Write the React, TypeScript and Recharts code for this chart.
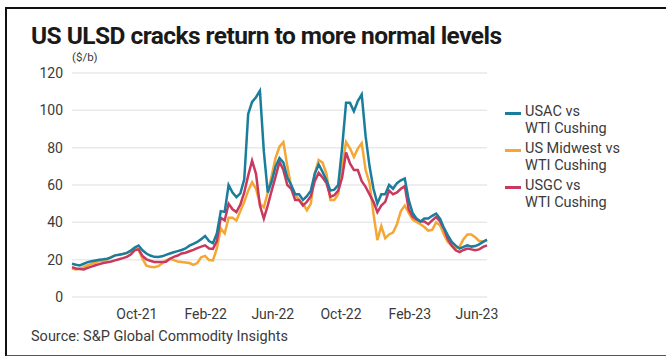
import { LineChart, Line, XAxis, YAxis, CartesianGrid } from 'recharts';

// weekly crack spreads, $/b, starting week of 7 Jun 2021
const usac = [
  17.8, 17.3, 16.9, 17.8, 18.7, 19.2, 19.6, 20, 20.2, 20.5,
  21.2, 22.3, 22.6, 23, 23.6, 24.8, 26.5, 27.5, 25, 23.3,
  22.2, 21.5, 21.4, 21.8, 22.6, 23.3, 24, 24.6, 25.2, 26,
  27.5, 28.5, 29.5, 31, 32.7, 30, 28.8, 34, 46, 45.6,
  60, 56, 53.5, 55.5, 63, 98, 104.5, 107, 110.5, 78,
  56, 62, 70, 74.5, 72, 64, 60, 55, 55, 52,
  54, 57, 66, 71, 67, 62.6, 57, 57.5, 60, 80,
  104, 104, 99.5, 105, 108.5, 86, 70, 58, 50, 55,
  55, 60, 58, 61, 62.5, 63.5, 52, 45, 42, 40.5,
  42, 42, 43.5, 44.7, 42, 37, 33, 29.5, 27.5, 25.9,
  26.8, 27.7, 27, 27.3, 28.2, 29.5, 30.7,
];

const midwest = [
  15.2, 14.8, 15.2, 16, 17, 17.8, 18.5, 19.2, 19.6, 20.2,
  21.3, 22.3, 22.6, 23.1, 23.5, 24.5, 26, 25.5, 20.5, 16.8,
  16.2, 16, 16.5, 18, 19.6, 20.5, 19.8, 19, 18.7, 18.5,
  18.2, 17.2, 18.2, 21.3, 22, 19.8, 19.6, 26, 36.7, 34,
  42.5, 42.5, 41, 46, 51, 57, 61.5, 58, 50, 48,
  56, 65, 74.5, 80.5, 83, 70, 59, 55, 52, 50,
  46.5, 50, 66, 73.4, 72, 66, 52, 52, 55, 70,
  83, 79.7, 75, 79.5, 82.4, 68, 61, 44.7, 30.5, 38,
  31.5, 33.5, 34.5, 39, 46, 49, 45, 41.5, 40.2, 39,
  37.5, 35.5, 36, 40, 38.4, 33.5, 29.5, 27.5, 26, 27,
  31, 33.5, 33.5, 32, 30, 29.7, 30.4,
];

const usgc = [
  16, 15.3, 15, 14.8, 15.6, 16.3, 17, 17.6, 18.2, 18.6,
  19, 19.6, 20.2, 20.8, 21.5, 22.8, 25, 25.5, 22, 20.2,
  19.4, 18.8, 18.7, 18.7, 18.9, 20.5, 21.5, 22.2, 23.3, 23.7,
  24.5, 25.2, 26.2, 27, 27.7, 26, 25.8, 30, 42.5, 41,
  50, 47, 45.5, 49.5, 56, 65, 73, 66, 49, 42,
  49, 57, 64.5, 72.5, 68, 60, 58, 52, 52, 49,
  51, 54, 62, 66.5, 64, 61, 53.7, 54.5, 57, 64,
  77.5, 71.6, 68, 68, 62, 59, 55, 51, 45.5, 49,
  51, 57, 55, 56, 58, 59.4, 47, 43, 41.5, 40.5,
  40.5, 39, 41, 42.9, 40.5, 36.5, 31, 27.5, 25, 24,
  25.2, 26, 25.5, 25, 25.5, 26.8, 27.7,
];

const seriesNames = ['USAC vs\nWTI Cushing', 'US Midwest vs\nWTI Cushing', 'USGC vs\nWTI Cushing'];
const seriesColors = ['#1b7d9c', '#f5a633', '#c9395f'];

const yTicks = [0, 20, 40, 60, 80, 100, 120];
const xTicks = [
  Date.UTC(2021, 9, 1),
  Date.UTC(2022, 1, 1),
  Date.UTC(2022, 5, 1),
  Date.UTC(2022, 9, 1),
  Date.UTC(2023, 1, 1),
  Date.UTC(2023, 5, 1),
];
const monthNames = ['Jan', 'Feb', 'Mar', 'Apr', 'May', 'Jun', 'Jul', 'Aug', 'Sep', 'Oct', 'Nov', 'Dec'];

const WEEK = 7 * 24 * 3600 * 1000;
const firstWeek = Date.UTC(2021, 5, 7);

const data = usac.map((v, i) => ({
  t: firstWeek + i * WEEK,
  usac: v,
  midwest: midwest[i],
  usgc: usgc[i],
}));

const fmtMonth = (t: number) => {
  const d = new Date(t);
  return `${monthNames[d.getUTCMonth()]}-${String(d.getUTCFullYear()).slice(2)}`;
};

const font = 'Roboto, "Liberation Sans", sans-serif';
const textColor = '#3a3a3a';

export default function App() {
  return (
    <div
      style={{
        position: 'absolute',
        left: 0,
        top: 0,
        width: 666,
        height: 356,
        overflow: 'hidden',
        background: '#fff',
        fontFamily: font,
      }}
    >
      <div
        style={{
          position: 'absolute',
          left: 5,
          top: 7,
          width: 720,
          height: 346,
          borderLeft: '2.5px solid #111',
          borderTop: '2.5px solid #111',
          borderBottom: '2px solid #555',
        }}
      />
      <div
        style={{
          position: 'absolute',
          left: 31,
          top: 22,
          fontSize: 24.5,
          fontWeight: 700,
          letterSpacing: -0.55,
          color: '#1a1a1a',
          lineHeight: '28px',
          whiteSpace: 'nowrap',
        }}
      >
        US ULSD cracks return to more normal levels
      </div>
      <div style={{ position: 'absolute', left: 72, top: 50, fontSize: 11.5, color: textColor }}>($/b)</div>

      <div style={{ position: 'absolute', left: 0, top: 0 }}>
        <LineChart
          width={666}
          height={356}
          data={data}
          margin={{ top: 73, right: 179, bottom: 0, left: 10 }}
        >
          <CartesianGrid vertical={false} stroke="#e9e9e9" strokeWidth={1.5} />
          <XAxis
            dataKey="t"
            type="number"
            domain={[data[0].t, data[data.length - 1].t]}
            ticks={xTicks}
            tickFormatter={fmtMonth}
            axisLine={false}
            tickLine={false}
            tickSize={0}
            tickMargin={12}
            height={59}
            tick={{ fill: textColor, fontSize: 14, fontFamily: font }}
          />
          <YAxis
            domain={[0, 120]}
            ticks={yTicks}
            axisLine={false}
            tickLine={false}
            tickSize={0}
            tickMargin={9}
            width={62}
            tick={{ fill: textColor, fontSize: 14, fontFamily: font }}
          />
          <Line dataKey="midwest" stroke={seriesColors[1]} strokeWidth={2.5} dot={false} isAnimationActive={false} />
          <Line dataKey="usgc" stroke={seriesColors[2]} strokeWidth={2.5} dot={false} isAnimationActive={false} />
          <Line dataKey="usac" stroke={seriesColors[0]} strokeWidth={2.5} dot={false} isAnimationActive={false} />
        </LineChart>
      </div>

      {seriesNames.map((name, i) => (
        <div
          key={name}
          style={{ position: 'absolute', left: 505, top: 103 + i * 37, display: 'flex', alignItems: 'flex-start' }}
        >
          <div style={{ width: 16, height: 3, background: seriesColors[i], marginTop: 9, marginRight: 4 }} />
          <div style={{ fontSize: 14.5, lineHeight: '17px', color: textColor, whiteSpace: 'pre' }}>{name}</div>
        </div>
      ))}

      <div style={{ position: 'absolute', left: 31, top: 328, fontSize: 14.5, color: textColor }}>
        Source: S&amp;P Global Commodity Insights
      </div>
    </div>
  );
}
